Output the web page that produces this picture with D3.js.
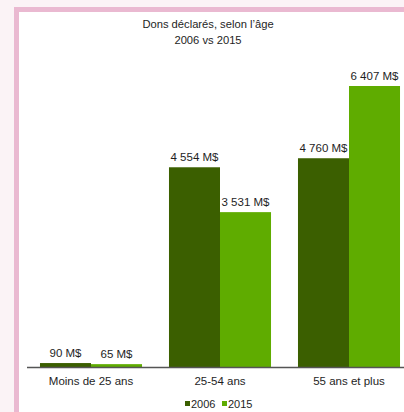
<!DOCTYPE html>
<html>
<head>
<meta charset="utf-8">
<script src="https://cdn.jsdelivr.net/npm/d3@7"></script>
<style>
  html, body { margin: 0; padding: 0; background: #fbf3f6; }
  #chart { width: 404px; height: 412px; }
  text { font-family: "Liberation Sans", Arial, sans-serif; fill: #1e1e1e; }
</style>
</head>
<body>
<div id="chart"></div>
<script>
// chart data
const categories = ["Moins de 25 ans", "25-54 ans", "55 ans et plus"];
const seriesNames = ["2006", "2015"];
const values2006 = [90, 4554, 4760];
const values2015 = [65, 3531, 6407];
const titleLines = ["Dons déclarés, selon l’âge", "2006 vs 2015"];

const colors = { "2006": "#3b5f00", "2015": "#5fac00" };

const W = 404, H = 412;
const svg = d3.select("#chart").append("svg")
  .attr("width", W)
  .attr("height", H);

// pink frame + white panel
svg.append("rect").attr("x", 14).attr("y", 7).attr("width", W - 14).attr("height", H - 7).attr("fill", "#eab9d1");
svg.append("rect").attr("x", 19).attr("y", 12).attr("width", W - 19).attr("height", H - 12).attr("fill", "#ffffff");

// title
svg.selectAll(".title")
  .data(titleLines)
  .enter()
  .append("text")
  .attr("class", "title")
  .attr("x", 208)
  .attr("y", (d, i) => 28 + i * 16)
  .attr("text-anchor", "middle")
  .style("font-size", "11.2px")
  .text((d) => d);

const data = categories.map((c, i) => ({
  cat: c,
  vals: [
    { key: "2006", value: values2006[i] },
    { key: "2015", value: values2015[i] },
  ],
}));

const baseY = 367;
const x0 = d3.scaleBand().domain(categories).range([26.5, 413.5]).paddingInner(0.209).paddingOuter(0.1045);
const x1 = d3.scaleBand().domain(seriesNames).range([0, x0.bandwidth()]);
const y = d3.scaleLinear()
  .domain([0, d3.max(values2015.concat(values2006))])
  .range([baseY, 86]);

const fmt = (v) => d3.format(",")(v).replace(/,/g, " ") + " M$";

const groups = svg.selectAll(".grp")
  .data(data)
  .enter()
  .append("g")
  .attr("transform", (d) => `translate(${x0(d.cat)},0)`);

groups.selectAll("rect")
  .data((d) => d.vals)
  .enter()
  .append("rect")
  .attr("x", (d) => x1(d.key))
  .attr("width", x1.bandwidth())
  .attr("y", (d) => Math.min(y(d.value), baseY - 2))
  .attr("height", (d) => Math.max(baseY - y(d.value), 2))
  .attr("fill", (d) => colors[d.key]);

groups.selectAll(".bar-label")
  .data((d) => d.vals)
  .enter()
  .append("text")
  .attr("class", "bar-label")
  .attr("x", (d) => x1(d.key) + x1.bandwidth() / 2)
  .attr("y", (d) => Math.min(y(d.value), baseY - 2) - 6)
  .attr("text-anchor", "middle")
  .style("font-size", "11.5px")
  .text((d) => fmt(d.value));

// x axis
const xAxis = svg.append("g")
  .attr("transform", `translate(0,${baseY})`)
  .call(d3.axisBottom(x0).tickSize(0).tickPadding(10));
xAxis.select(".domain").attr("d", `M27,0.5H${W}`).attr("stroke", "#555").attr("stroke-width", 1.3);
xAxis.selectAll(".tick text")
  .style("font-size", "11.5px")
  .style("font-family", "'Liberation Sans', Arial, sans-serif")
  .attr("fill", "#1e1e1e");

// legend
const legend = svg.append("g").attr("transform", "translate(185,408)");
const legItems = legend.selectAll("g")
  .data(seriesNames)
  .enter()
  .append("g")
  .attr("transform", (d, i) => `translate(${i * 37},0)`);
legItems.append("rect")
  .attr("x", 0).attr("y", -7).attr("width", 5).attr("height", 5)
  .attr("fill", (d) => colors[d]);
legItems.append("text")
  .attr("x", 6)
  .attr("y", 0)
  .style("font-size", "11px")
  .text((d) => d);
</script>
</body>
</html>
